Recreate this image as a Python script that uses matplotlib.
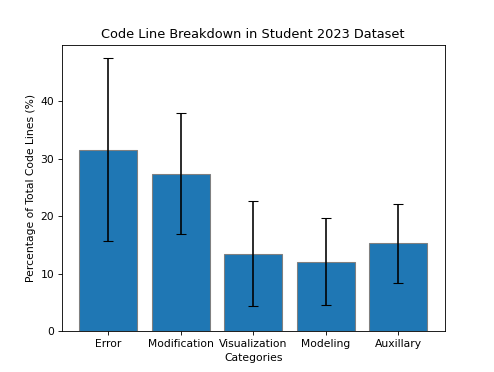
import matplotlib.pyplot as plt

categories = ['Error', 'Modification', 'Visualization', 'Modeling', 'Auxillary']
means = [31.6, 27.4, 13.5, 12.1, 15.3]
stds = [15.9, 10.55, 9.2, 7.55, 6.9]

fig, ax = plt.subplots(figsize=(494 / 77.5, 372 / 77.5), dpi=77.5)
ax.bar(categories, means, yerr=stds, capsize=5, color='#1f77b4',
       edgecolor='grey')
ax.set_title('Code Line Breakdown in Student 2023 Dataset')
ax.set_xlabel('Categories')
ax.set_ylabel('Percentage of Total Code Lines (%)')

plt.savefig('out.png', dpi=77.5)
